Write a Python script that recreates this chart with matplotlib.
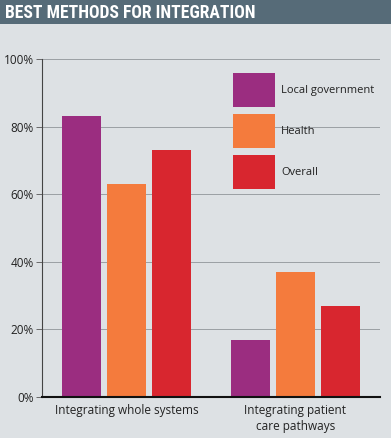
import matplotlib.pyplot as plt
from matplotlib.patches import Rectangle

# data
categories = ['Integrating whole systems', 'Integrating patient\ncare pathways']
series = ['Local government', 'Health', 'Overall']
local_gov = [83, 17]
health = [63, 37]
overall = [73, 27]
colors = ['#9b2d80', '#f47b3d', '#d8262f']

bg = '#dde1e4'
fig = plt.figure(figsize=(3.91, 4.38), dpi=100, facecolor=bg)
ax = fig.add_axes([42/391, 41/438, 338/391, 338/438])
ax.set_facecolor(bg)

# title bar
fig.patches.append(Rectangle((0, 1 - 24/438), 1, 24/438, transform=fig.transFigure,
                             facecolor='#566b78', edgecolor='none', zorder=0))
fig.text(5/391, 1 - 12.5/438, 'BEST METHODS FOR INTEGRATION', color='white',
         fontsize=12.7, fontweight='bold', fontstretch='condensed',
         family=['Roboto Condensed', 'DejaVu Sans'], va='center', ha='left')

centers = [0, 3.75]
width = 0.88
for i, (vals, name) in enumerate(zip([local_gov, health, overall], series)):
    xs = [c + (i - 1) for c in centers]
    ax.bar(xs, vals, width=width, color=colors[i], zorder=3, label=name)

ax.set_xlim(-1.88, 5.63)
ax.set_ylim(0, 100)
ax.set_yticks(range(0, 101, 20))
ax.set_yticklabels([f'{v}%' for v in range(0, 101, 20)], fontsize=8.5, color='#222222',
                   family='Open Sans')
ax.tick_params(axis='y', length=4, width=0.6, color='#555555', pad=2)
ax.set_xticks(centers)
ax.set_xticklabels(categories, fontsize=8.5, color='#222222', family='Open Sans',
                   linespacing=1.3)
ax.tick_params(axis='x', length=0, pad=5)

ax.grid(axis='y', color='#9a9fa3', linewidth=0.7, zorder=0)
for s in ['top', 'right']:
    ax.spines[s].set_visible(False)
ax.spines['left'].set_color('#444444')
ax.spines['left'].set_linewidth(0.8)
ax.spines['bottom'].set_color('#111111')
ax.spines['bottom'].set_linewidth(1.5)
ax.spines['bottom'].set_zorder(4)

leg = ax.legend(loc='upper left', bbox_to_anchor=(191/338, 1 - 14/338), frameon=False,
                borderpad=0, borderaxespad=0,
                handlelength=3.78, handleheight=4.33, handletextpad=0.55,
                labelspacing=0.63, prop={'family': 'Open Sans', 'size': 8})
for t in leg.get_texts():
    t.set_color('#222222')

fig.savefig('out.png', dpi=100, facecolor=bg)
